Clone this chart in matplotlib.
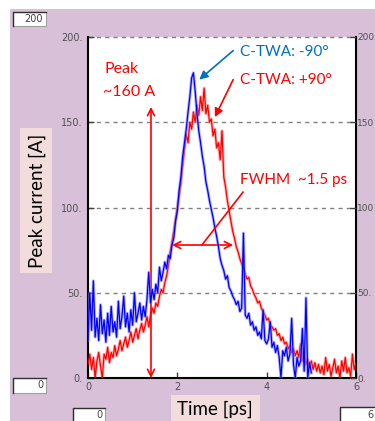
import numpy as np
import matplotlib
matplotlib.use("Agg")
import matplotlib.pyplot as plt
from matplotlib.patches import Rectangle

# ---------------------------------------------------
# Datos (corriente pico vs tiempo)
t_blue = np.round(np.arange(0, 5.001, 0.04), 2)
i_blue = [22, 50, 28, 57, 24, 35, 22, 43, 26, 34,
          21, 38, 25, 42, 27, 33, 24, 45, 29, 36,
          48, 30, 38, 27, 40, 31, 50, 33, 38, 44,
          34, 42, 36, 46, 62, 44, 52, 46, 55, 50,
          65, 57, 62, 68, 64, 72, 70, 78, 82, 92,
          98, 110, 118, 130, 138, 146, 156, 165, 176, 179,
          168, 155, 145, 138, 130, 124, 115, 110, 104, 99,
          94, 88, 83, 77, 70, 66, 63, 58, 60, 53,
          51, 48, 46, 43, 45, 39, 41, 85, 37, 35,
          38, 31, 33, 28, 30, 25, 27, 23, 40, 22,
          20, 23, 33, 18, 21, 15, 19, 12, 0, 16,
          13, 18, 10, 14, 35, 8, 0, 12, 7, 10,
          29, 4, 47, 0, 9, 3]

t_red = np.round(np.arange(0, 6.001, 0.04), 2)
i_red = [8, 14, 5, 12, 0, 10, 15, 7, 0, 14,
         11, 18, 9, 15, 12, 19, 13, 17, 22, 16,
         20, 24, 18, 22, 27, 21, 25, 29, 23, 28,
         32, 27, 31, 36, 30, 37, 41, 38, 44, 42,
         48, 52, 50, 56, 60, 66, 74, 80, 86, 93,
         100, 107, 114, 125, 134, 143, 138, 150, 146, 156,
         150, 160, 154, 165, 157, 170, 155, 160, 150, 152,
         142, 146, 135, 138, 128, 145, 118, 112, 104, 98,
         92, 86, 82, 77, 74, 70, 67, 64, 61, 58,
         59, 54, 52, 49, 47, 44, 45, 41, 39, 37,
         34, 35, 31, 30, 28, 29, 25, 26, 22, 24,
         20, 21, 17, 19, 15, 17, 13, 16, 12, 20,
         10, 13, 8, 11, 7, 10, 5, 9, 4, 8,
         3, 7, 2, 12, 4, 8, 1, 6, 11, 3,
         7, 0, 10, 4, 12, 3, 6, 1, 14, 5, 9]

y_ticks = [0, 50, 100, 150, 200]
y_tick_labels = ["0.", "50.", "100.", "150.", "200."]
y_right_labels = ["0.", "50.", "100", "150", "200"]
x_ticks = [0, 2, 4, 6]
x_tick_labels = ["0", "2", "4", "6"]

W, H = 375, 421  # tamaño en píxeles
purple = "#d8c0d8"
pink = "#f2dcdc"
red = "#ff0000"
blue_txt = "#0070c0"

fig = plt.figure(figsize=(W / 100, H / 100), dpi=100, facecolor="white")

# fondo morado del panel (debajo de los ejes)
fig.patches.append(Rectangle((10 / W, 0), 1, 1 - 9 / H, transform=fig.transFigure,
                             facecolor=purple, edgecolor="none", zorder=-10))

# cajitas de valores (estilo LabVIEW)
def value_box(x0, y0, x1, y1, txt):
    fig.patches.append(Rectangle((x0 / W, 1 - y1 / H), (x1 - x0) / W, (y1 - y0) / H,
                                 transform=fig.transFigure, facecolor="white",
                                 edgecolor="#a0a0a0", lw=0.8, zorder=1))
    fig.lines.append(plt.Line2D([x0 / W, x0 / W, x1 / W], [1 - y1 / H, 1 - y0 / H, 1 - y0 / H],
                                transform=fig.transFigure, color="#303030", lw=1.0, zorder=2))
    fig.text((x1 - 3) / W, 1 - (y0 + y1) / 2 / H, txt, ha="right", va="center",
             fontsize=7, color="#404040", zorder=3)

value_box(13, 12, 46, 26, "200")
value_box(13, 378, 46, 393, "0")
value_box(73, 408, 105, 422, "0")
value_box(340, 407, 376, 422, "6")

# cajas de las etiquetas de los ejes
fig.patches.append(Rectangle((20 / W, 1 - 273 / H), 32 / W, 145 / H, transform=fig.transFigure,
                             facecolor=pink, edgecolor="none", zorder=1))
fig.text(37 / W, 1 - 201 / H, "Peak current [A]", rotation=90, ha="center", va="center",
         fontsize=13.5, family="Lato", color="black", zorder=3)
fig.patches.append(Rectangle((171 / W, 0), 89 / W, 26 / H, transform=fig.transFigure,
                             facecolor=pink, edgecolor="none", zorder=1))
fig.text(215 / W, 1 - 409 / H, "Time [ps]", ha="center", va="center",
         fontsize=13.5, family="Lato", color="black", zorder=3)

# ---------------------------------------------------
# área del gráfico
ax = fig.add_axes([88 / W, 1 - 378 / H, 268 / W, 341 / H])
ax.set_facecolor("white")
ax.set_xlim(0, 6)
ax.set_ylim(0, 200)

for yv in y_ticks[1:]:
    ax.axhline(yv, color="#808080", lw=1, dashes=(3, 3), zorder=1, clip_on=False)

# trazas: halo claro + línea
ax.plot(t_red, i_red, color="#ff8080", lw=2.2, alpha=0.6, zorder=2)
ax.plot(t_red, i_red, color=red, lw=0.9, zorder=3)
ax.plot(t_blue, i_blue, color="#8080ff", lw=2.2, alpha=0.6, zorder=4)
ax.plot(t_blue, i_blue, color="#0000ff", lw=0.9, zorder=5)

ax.spines["top"].set_visible(False)
for s in ["left", "right", "bottom"]:
    ax.spines[s].set_color("black")
    ax.spines[s].set_linewidth(1.5)

ax.set_xticks(x_ticks)
ax.set_xticklabels(x_tick_labels)
ax.set_yticks(y_ticks)
ax.set_yticklabels(y_tick_labels)
ax.tick_params(axis="both", direction="in", length=4, width=1, labelsize=7,
               labelcolor="#505050", color="#404040")
ax.tick_params(axis="y", pad=4)
ax.tick_params(axis="x", pad=3)

# etiquetas del eje derecho (mismo eje, texto sin punto para que quepan)
ax_r = ax.twinx()
ax_r.set_ylim(0, 200)
ax_r.set_yticks(y_ticks)
ax_r.set_yticklabels(y_right_labels)
ax_r.tick_params(axis="y", direction="in", length=4, width=1, labelsize=6.5,
                 labelcolor="#505050", color="#404040", pad=1)
for s in ax_r.spines.values():
    s.set_visible(False)

# ---------------------------------------------------
# anotaciones
ax.text(0.36, 181, "Peak", color=red, fontsize=11.5, family="Lato", va="center")
ax.text(0.34, 168, "~160 A", color=red, fontsize=11.5, family="Lato", va="center")
ax.annotate("", xy=(1.41, 159), xytext=(1.41, 0),
            arrowprops=dict(arrowstyle="<->,head_length=0.5,head_width=0.25", color=red, lw=1.2,
                            shrinkA=0, shrinkB=0))

ax.text(3.40, 191, "C-TWA: -90°", color=blue_txt, fontsize=11, family="Lato", va="center")
ax.annotate("", xy=(2.49, 175), xytext=(3.25, 192),
            arrowprops=dict(arrowstyle="-|>,head_length=0.5,head_width=0.25", color=blue_txt, lw=1.2,
                            shrinkA=0, shrinkB=0))

ax.text(3.40, 175, "C-TWA: +90°", color=red, fontsize=11, family="Lato", va="center")
ax.annotate("", xy=(2.84, 153), xytext=(3.25, 175),
            arrowprops=dict(arrowstyle="-|>,head_length=0.5,head_width=0.25", color=red, lw=1.2,
                            shrinkA=0, shrinkB=0))

ax.text(3.40, 116, "FWHM  ~1.5 ps", color=red, fontsize=11, family="Lato", va="center")
ax.plot([3.47, 2.55], [109, 78], color=red, lw=1.2, zorder=6)
ax.annotate("", xy=(1.88, 78), xytext=(3.25, 78),
            arrowprops=dict(arrowstyle="<->,head_length=0.5,head_width=0.25", color=red, lw=1.2,
                            shrinkA=0, shrinkB=0))

fig.savefig("out.png", dpi=100)
